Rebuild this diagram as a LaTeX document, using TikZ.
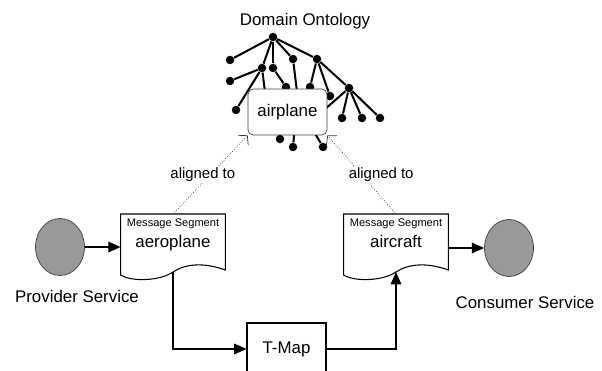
\documentclass[tikz,border=0pt]{standalone}
\usepackage{fontspec}
\setmainfont{Liberation Sans}
\usetikzlibrary{arrows.meta,calc,shapes.geometric}

\newcommand{\msgdoc}[1]{%
	\draw[line width=0.6pt] (#1.north west) -- (#1.north east) -- ++(0,56)
	.. controls +(-22,-8) and +(12,-8) .. ($(#1.north)+(0,58)$) coordinate (#1-w)
	.. controls +(-13,9) and +(11,7) .. ($(#1.north west)+(0,61)$) -- cycle;}

\begin{document}
\begin{tikzpicture}[x=0.02cm, y=-0.02cm, font=\fontsize{9.6pt}{11pt}\selectfont,
	dot/.style={circle, fill=black, inner sep=0pt, minimum size=0.17cm},
	branch/.style={line width=1.15pt},
	msg/.style={anchor=north, minimum width=1.98cm, align=center, inner ysep=2.6pt},
	service/.style={ellipse, draw=black!75, fill=black!40, minimum width=0.98cm, minimum height=1.14cm},
	flow/.style={line width=0.75pt, -{Triangle[length=7pt,width=6pt]}},
	aligned/.style={densely dotted, black!80, -{Straight Barb[length=3.5pt,width=8pt]}},
	tag/.style={fill=white, text=black, inner sep=1pt, font=\fontsize{8.5pt}{10pt}\selectfont}]
	\useasboundingbox (0,0) rectangle (602,371);
	\node (onto) at (305,21) {Domain Ontology};
	\node[dot] (root) at (273,37) {};
	\node[dot] (k1) at (230,60) {};
	\node[dot] (k2) at (262,68) {};
	\node[dot] (k3) at (273,68) {};
	\node[dot] (k4) at (293,59) {};
	\node[dot] (k5) at (317,59) {};
	\node[dot] (g1) at (230,81) {};
	\node[dot] (g2) at (236,110) {};
	\node[dot] (g3) at (286,87) {};
	\node[dot] (g4) at (310,87) {};
	\node[dot] (g5) at (330,96) {};
	\node[dot] (g6) at (349,88) {};
	\node[dot] (g7) at (342,118) {};
	\node[dot] (g8) at (362,118) {};
	\node[dot] (g9) at (380,118) {};
	\node[dot] (b1) at (280,139) {};
	\node[dot] (b2) at (293,147) {};
	\node[dot] (b3) at (323,147) {};
	\coordinate (h1) at (266,100);
	\coordinate (h2) at (298,100);
	\coordinate (h3) at (315,118);
	\coordinate (h4) at (279,125);
	\coordinate (h5) at (295,125);
	\coordinate (h6) at (310,125);
	\path[branch]
	(root) edge (k1) edge (k2) edge (k3) edge (k4) edge (k5)
	(k2) edge (g1) edge (g2) edge (h1)
	(k3) edge (g3)
	(k4) edge (h2)
	(k5) edge (g4) edge (g5) edge (g6)
	(g6) edge (g7) edge (g8) edge (g9) edge (h3)
	(h4) edge (b1)
	(h5) edge (b2)
	(h6) edge (b3)
	;
	\node[draw=black!75, rounded corners=3pt, fill=white, minimum width=1.58cm, minimum height=0.92cm] (air) at (287.5,112) {airplane};
	\node[msg] (aero) at (173,214) {{\fontsize{6.3pt}{7pt}\selectfont Message Segment}\\[1pt] aeroplane};
	\node[msg] (craft) at (396,214) {{\fontsize{6.3pt}{7pt}\selectfont Message Segment}\\[1pt] aircraft};
	\msgdoc{aero}
	\msgdoc{craft}
	\node[service] (prov) at (60,247) {};
	\node (provlbl) at (77,296) {Provider Service};
	\node[service] (cons) at (509,248) {};
	\node (conslbl) at (525,302) {Consumer Service};
	\node[draw, line width=0.6pt, minimum width=1.58cm, minimum height=1.04cm] (tmap) at (286.5,349) {T-Map};
	\draw[flow] (prov) -- (prov -| aero.west);
	\draw[flow] (aero-w) |- (tmap);
	\draw[flow] (tmap) -| (craft-w);
	\draw[flow] (cons -| craft.east) -- (cons);
	\draw[aligned] (aero.north) -- node[tag, xshift=-0.15cm] (al1) {aligned to} (air.south west);
	\draw[aligned] (craft.north) -- node[tag, xshift=0.39cm] (al2) {aligned to} (air.south east);
\end{tikzpicture}
\end{document}
